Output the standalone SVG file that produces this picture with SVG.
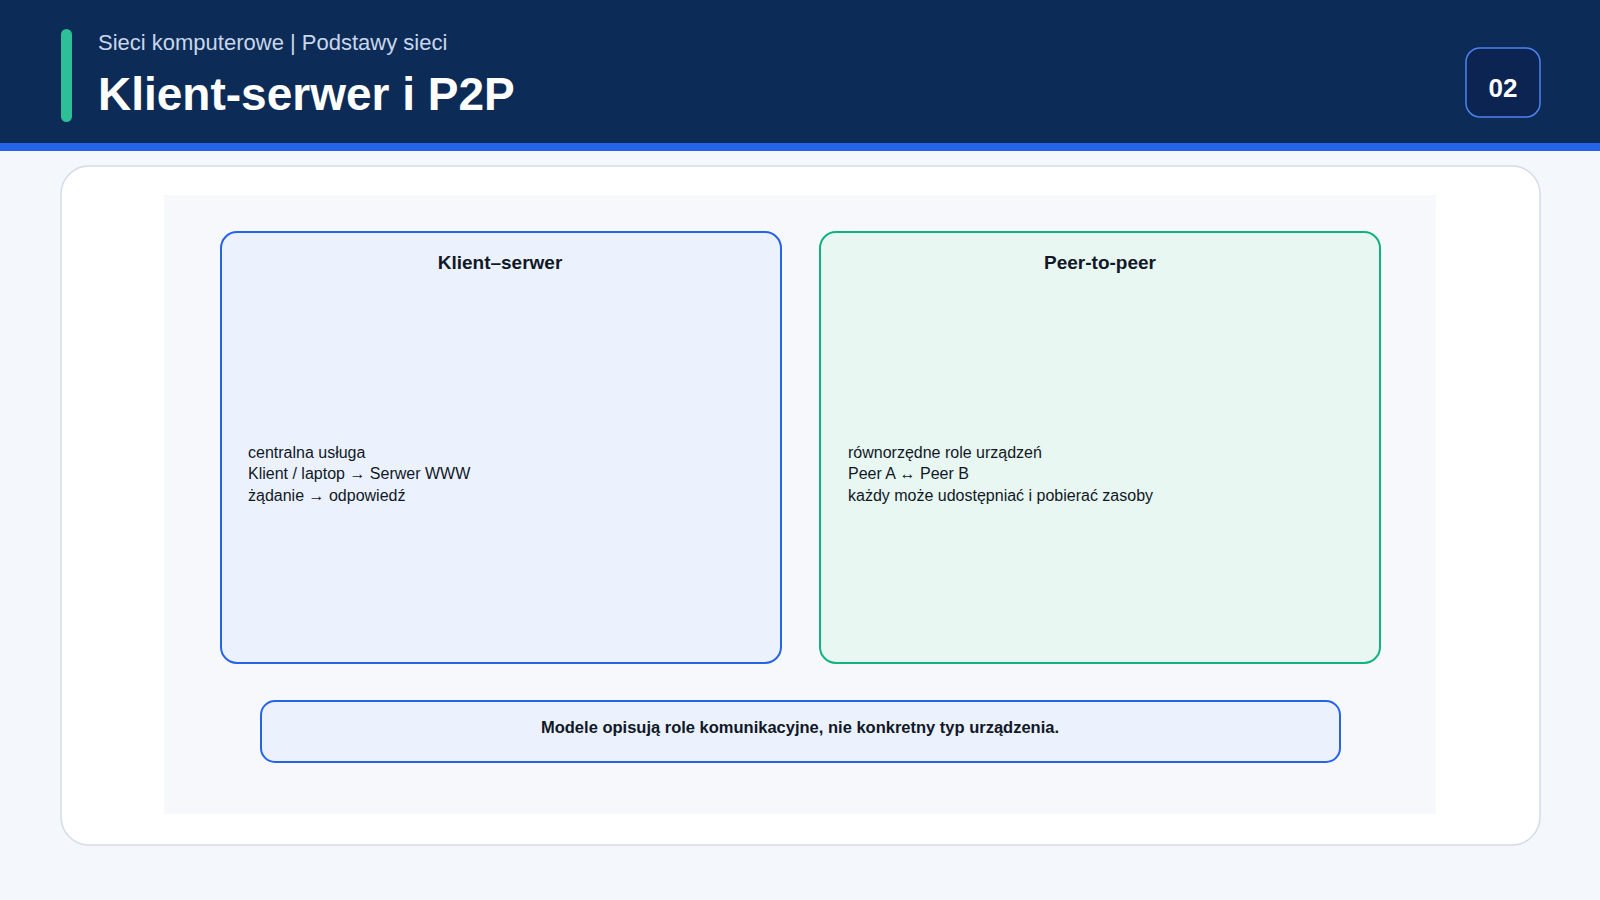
<svg xmlns="http://www.w3.org/2000/svg" width="1600" height="900" viewBox="0 0 1600 900">
<style>
text{font-family:"Liberation Sans",Arial,sans-serif}
.b{font-size:16px;fill:#111827}
.h{font-size:19px;font-weight:bold;fill:#111827;text-anchor:middle}
</style>
<rect width="1600" height="900" fill="#f4f7fc"/>
<rect width="1600" height="143" fill="#0c2c57"/>
<rect y="143" width="1600" height="8" fill="#2563eb"/>
<rect x="61" y="29" width="11" height="93" rx="5.5" fill="#2dbf98"/>
<text x="98" y="50" font-size="22" fill="#c9d6ea">Sieci komputerowe | Podstawy sieci</text>
<text x="98" y="110" font-size="46" font-weight="bold" fill="#ffffff">Klient-serwer i P2P</text>
<g id="badge"><rect x="1466" y="48" width="74" height="69" rx="14" fill="#0c2452" stroke="#4d82f0" stroke-width="1.5"/>
<text x="1503" y="97" font-size="26" font-weight="bold" fill="#fff" text-anchor="middle">02</text></g>
<rect x="61" y="166" width="1479" height="679" rx="28" fill="#fff" stroke="#d3dcea" stroke-width="1.5"/>
<rect x="164" y="195" width="1272" height="619" fill="#f6f8fc"/>
<g id="client-server"><rect x="221" y="232" width="560" height="431" rx="16" fill="#ebf2fe" stroke="#2563eb" stroke-width="2"/>
<text x="500" y="269" class="h">Klient–serwer</text>
<text class="b"><tspan x="248" y="458">centralna usługa</tspan><tspan x="248" y="479">Klient / laptop → Serwer WWW</tspan><tspan x="248" y="501">żądanie → odpowiedź</tspan></text></g>
<g id="p2p"><rect x="820" y="232" width="560" height="431" rx="16" fill="#e8f7f1" stroke="#10b37f" stroke-width="2"/>
<text x="1100" y="269" class="h">Peer-to-peer</text>
<text class="b"><tspan x="848" y="458">równorzędne role urządzeń</tspan><tspan x="848" y="479">Peer A ↔ Peer B</tspan><tspan x="848" y="501">każdy może udostępniać i pobierać zasoby</tspan></text></g>
<g id="note"><rect x="261" y="701" width="1079" height="61" rx="14" fill="#ebf2fe" stroke="#2563eb" stroke-width="2"/>
<text x="800" y="733" font-size="16.5" font-weight="bold" fill="#111827" text-anchor="middle">Modele opisują role komunikacyjne, nie konkretny typ urządzenia.</text></g>
<g id="connectors"/>
</svg>
